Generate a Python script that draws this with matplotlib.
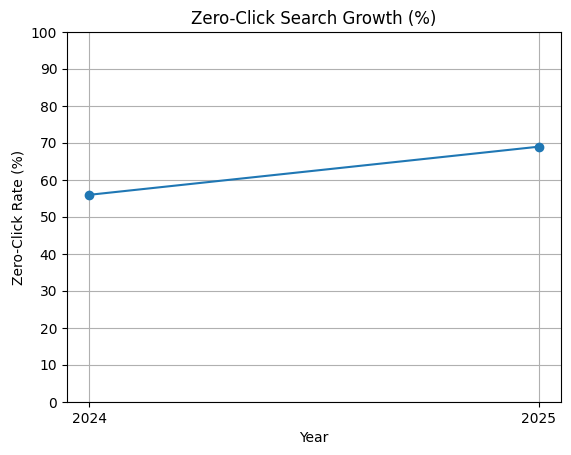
import matplotlib
matplotlib.use("Agg")
import matplotlib.pyplot as plt

years = ["2024", "2025"]
rates = [56, 69]

fig = plt.figure(figsize=(5.71, 4.55), dpi=100)
ax = fig.add_axes([67/571, 1-402/455, (561-67)/571, (402-32)/455])
x = [int(y) for y in years]
ax.plot(x, rates, marker='o')
ax.set_xticks(x)
ax.set_xticklabels(years)
ax.set_ylim(0, 100)
ax.set_yticks(range(0, 101, 10))
ax.set_title("Zero-Click Search Growth (%)")
ax.set_xlabel("Year")
ax.set_ylabel("Zero-Click Rate (%)")
ax.grid(True)
fig.savefig("out.png", dpi=100)
